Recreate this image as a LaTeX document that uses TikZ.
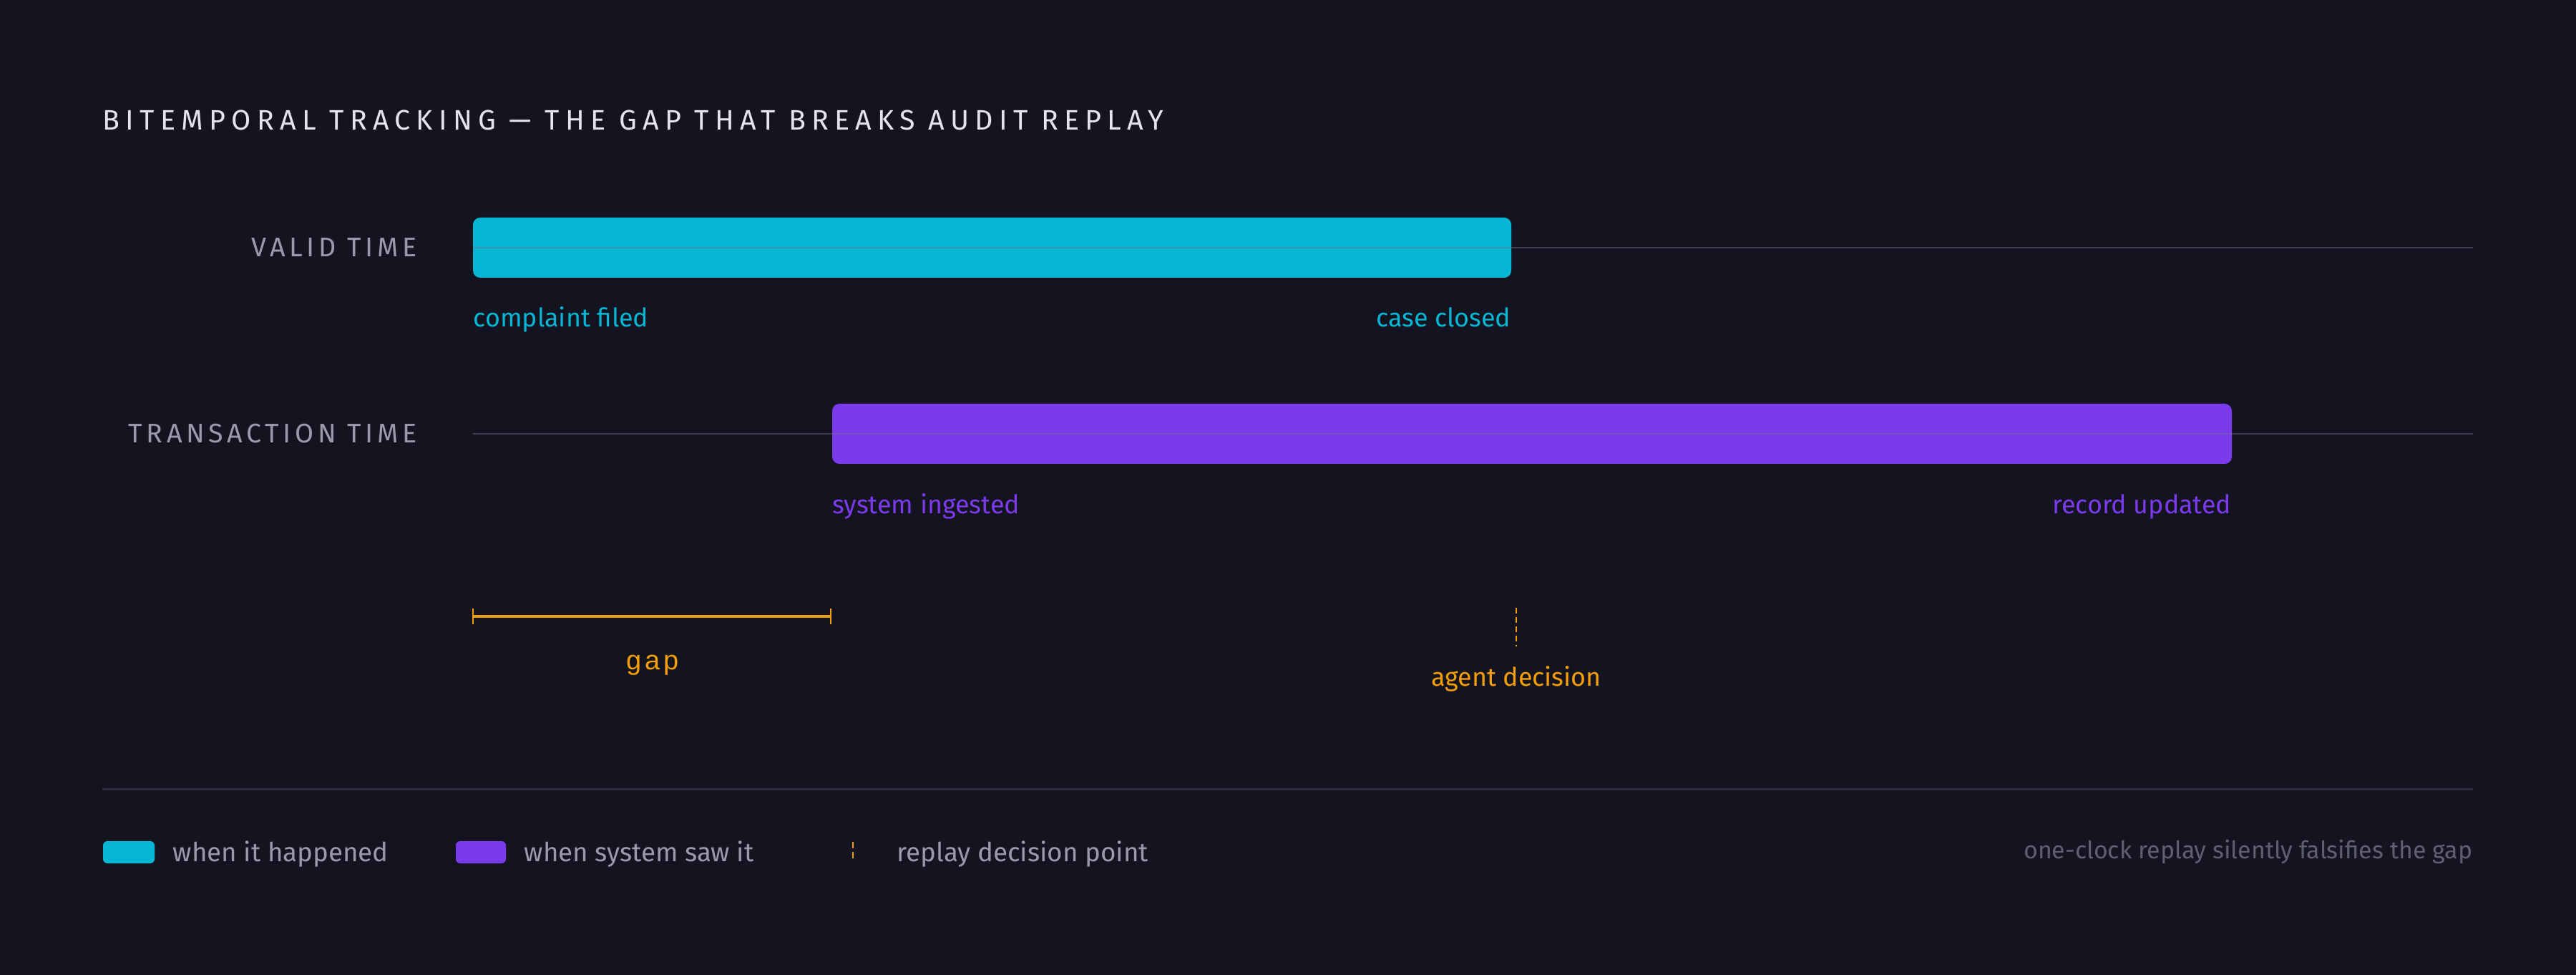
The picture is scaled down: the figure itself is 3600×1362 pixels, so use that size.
\documentclass[tikz,border=0pt]{standalone}
\usepackage{fontspec}
\setmainfont{Fira Sans}
\newfontfamily\gapfont{Liberation Sans}
\usepackage{xcolor}
\usetikzlibrary{positioning}

\definecolor{bgDark}{HTML}{13141F}
\definecolor{validCyan}{HTML}{06B6D4}
\definecolor{txViolet}{HTML}{7C3AED}
\definecolor{decAmber}{HTML}{F59E0B}
\definecolor{titleWhite}{HTML}{E4E4EE}
\definecolor{labelGray}{HTML}{9A9AAA}
\definecolor{noteGray}{HTML}{5F5F70}
\definecolor{trackGray}{HTML}{75758A}
\definecolor{ruleGray}{HTML}{2C2C3A}

\tikzset{
	caps/.style = {inner sep = 0, font = \fontsize{10.7}{12}\selectfont\addfontfeature{LetterSpace=15}},
	event/.style = {inner sep = 0, font = \fontsize{10.2}{12}\selectfont},
	legendtext/.style = {inner sep = 0, text = labelGray, font = \fontsize{10.45}{12}\selectfont},
	track/.style = {trackGray, opacity = 0.45, line width = 0.25mm},
	decision/.style = {decAmber, line width = 0.25mm, dash pattern = on 0.8mm off 0.5mm}
}

\begin{document}
\begin{tikzpicture}[x = 0.1mm, y = -0.1mm]
	\def\xStart{661};
	\def\xEnd{3456};
	\def\xLeft{143};
	\def\xLabel{583};
	\def\validA{661};
	\def\validB{2112};
	\def\txA{1163};
	\def\txB{3119};
	\def\rowValid{346};
	\def\rowTx{606};
	\def\barH{42};
	\def\xDecision{2119};

	\fill [bgDark] (0,0) rectangle (3600,1362);
	\useasboundingbox (0,0) rectangle (3600,1362);

	\node [inner sep = 0, anchor = base west, text = titleWhite, font = \fontsize{11.2}{13}\selectfont\addfontfeature{LetterSpace=21}] (title) at (\xLeft,182) {BITEMPORAL TRACKING — THE GAP THAT BREAKS AUDIT REPLAY};

	\begin{scope}
		\node [caps, anchor = east, text = labelGray] (validLabel) at (\xLabel,\rowValid) {VALID TIME};
		\fill [validCyan, rounded corners = 1mm] (\validA,\rowValid - \barH) rectangle (\validB,\rowValid + \barH);
		\draw [track] (\xStart,\rowValid) -- (\xEnd,\rowValid);
		\node [event, anchor = base west, text = validCyan] (filed) at (\validA,457) {complaint filed};
		\node [event, anchor = base east, text = validCyan] (closed) at (\validB,457) {case closed};
	\end{scope}

	\begin{scope}
		\node [caps, anchor = east, text = labelGray] (txLabel) at (\xLabel,\rowTx) {TRANSACTION TIME};
		\fill [txViolet, rounded corners = 1mm] (\txA,\rowTx - \barH) rectangle (\txB,\rowTx + \barH);
		\draw [track] (\xStart,\rowTx) -- (\xEnd,\rowTx);
		\node [event, anchor = base west, text = txViolet] (ingested) at (\txA,717) {system ingested};
		\node [event, anchor = base east, text = txViolet] (updated) at (\txB,717) {record updated};
	\end{scope}

	\begin{scope}
		\coordinate (gapL) at (\validA,861);
		\coordinate (gapR) at (\txA - 2,861);
		\draw [decAmber, line width = 0.4mm] (gapL) -- (gapR);
		\draw [decAmber, line width = 0.2mm] ([yshift = 1.1mm] gapL) -- ([yshift = -1.1mm] gapL);
		\draw [decAmber, line width = 0.2mm] ([yshift = 1.1mm] gapR) -- ([yshift = -1.1mm] gapR);
		\node [inner sep = 0, anchor = base, text = decAmber, font = \gapfont\fontsize{10.8}{12}\selectfont\addfontfeature{LetterSpace=14}] (gap) at (912,935) {gap};

		\coordinate (decTop) at (\xDecision,849);
		\coordinate (decBottom) at (\xDecision,903);
		\draw [decision] (decTop) -- (decBottom);
		\node [event, anchor = base, text = decAmber] (agent) at (\xDecision,958) {agent decision};
	\end{scope}

	\coordinate (ruleL) at (\xLeft,1102);
	\coordinate (ruleR) at (\xEnd,1102);
	\draw [ruleGray, line width = 0.3mm] (ruleL) -- (ruleR);

	\begin{scope}
		\fill [validCyan, rounded corners = 0.6mm] (144,1175) rectangle (216,1206);
		\node [legendtext, anchor = base west] (happened) at (241,1203) {when it happened};
		\fill [txViolet, rounded corners = 0.6mm] (637,1175) rectangle (707,1206);
		\node [legendtext, anchor = base west] (saw) at (732,1203) {when system saw it};
		\coordinate (keyTop) at (1192,1176);
		\coordinate (keyBottom) at (1192,1200);
		\draw [decision, dash pattern = on 0.9mm off 0.5mm] (keyTop) -- (keyBottom);
		\node [legendtext, anchor = base west] (point) at (1253,1203) {replay decision point};
		\node [inner sep = 0, anchor = base east, text = noteGray, font = \fontsize{9.65}{11}\selectfont] (note) at (\xEnd,1199) {one-clock replay silently falsifies the gap};
	\end{scope}
\end{tikzpicture}
\end{document}
